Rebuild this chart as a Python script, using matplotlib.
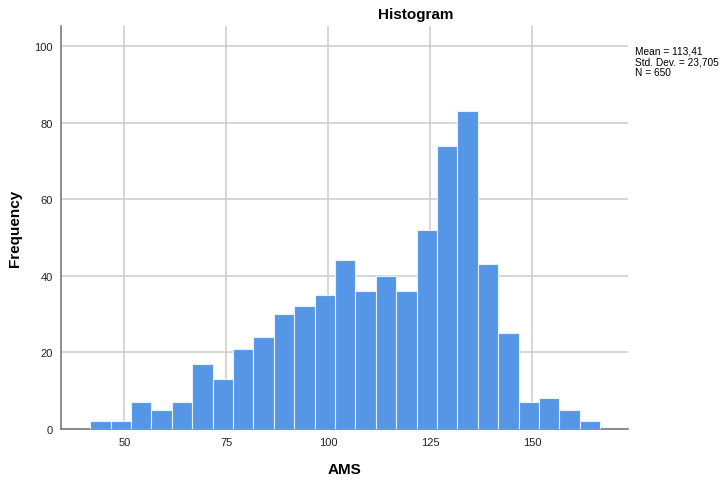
import matplotlib
matplotlib.use("Agg")
import matplotlib.pyplot as plt
import numpy as np

plt.rcParams['font.family'] = ['Liberation Sans', 'DejaVu Sans']

counts = [2, 2, 7, 5, 7, 17, 13, 21, 24, 30, 32, 35, 44, 36, 40, 36, 52, 74, 83, 43, 25, 7, 8, 5, 2]
bin_start = 41.67
bin_width = 5.0
edges = bin_start + bin_width * np.arange(len(counts) + 1)

x_ticks = [50, 75, 100, 125, 150]
y_ticks = [0, 20, 40, 60, 80, 100]
stats_lines = ["Mean = 113,41", "Std. Dev. = 23,705", "N = 650"]

fig = plt.figure(figsize=(7.28, 4.85), dpi=100)
ax = fig.add_axes([61/728, 55/485, (628-61)/728, (430-27)/485])

ax.hist(edges[:-1], bins=edges, weights=counts, color='#5596E6', edgecolor='#E8F0FB', linewidth=0.8, zorder=3)

ax.set_xlim(34.5, 173.5)
ax.set_ylim(0, 105.2)
ax.set_xticks(x_ticks)
ax.set_yticks(y_ticks)
ax.grid(True, color='#CFCFCF', linewidth=1.2, zorder=0)
ax.set_axisbelow(True)
for s in ['top', 'right']:
    ax.spines[s].set_visible(False)
for s in ['left', 'bottom']:
    ax.spines[s].set_color('#7A7A7A')
    ax.spines[s].set_linewidth(1.2)
ax.tick_params(axis='both', labelsize=8, length=0, pad=6, colors='#222222')

fig.text(416/728, 1 - 15/485, "Histogram", ha='center', va='center', fontsize=11, fontweight='bold')
fig.text(15/728, 1 - 228/485, "Frequency", ha='center', va='center', rotation=90, fontsize=11, fontweight='bold')
fig.text(345/728, 1 - 470/485, "AMS", ha='center', va='center', fontsize=11, fontweight='bold')
fig.text(635/728, 1 - 47/485, "\n".join(stats_lines), ha='left', va='top', fontsize=7.3, linespacing=1.05)

fig.savefig("out.png", dpi=100)
